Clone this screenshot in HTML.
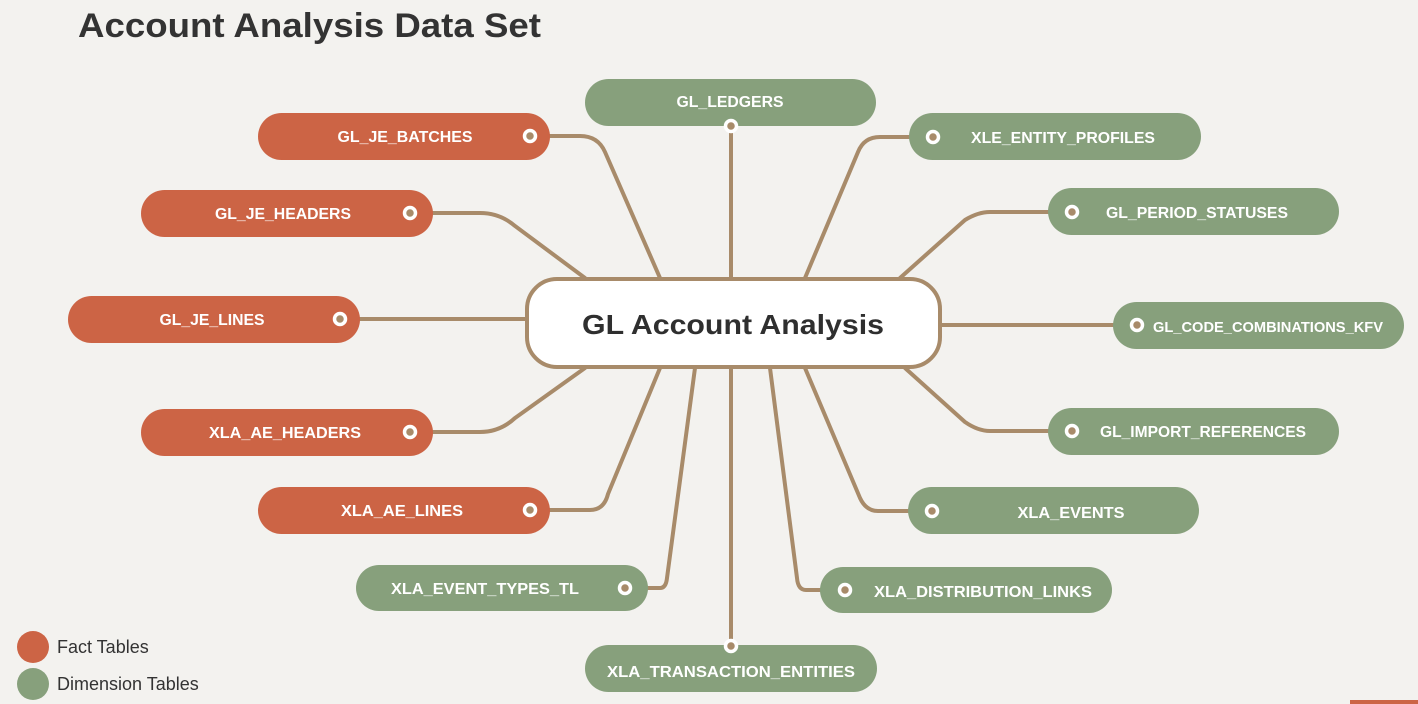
<!DOCTYPE html>
<html><head><meta charset="utf-8"><style>
html,body{margin:0;padding:0;background:#f3f2ef;}
svg{display:block;}
text{font-family:"Liberation Sans",sans-serif;}
</style></head><body>
<svg width="1418" height="704" viewBox="0 0 1418 704" xmlns="http://www.w3.org/2000/svg">
<rect width="1418" height="704" fill="#f3f2ef"/>
<text x="78" y="37" font-size="34" font-weight="bold" fill="#333" textLength="463" lengthAdjust="spacingAndGlyphs">Account Analysis Data Set</text>

<g fill="none" stroke="#a88b6a" stroke-width="4" stroke-linecap="round">
<path d="M548,136 H580 Q598,136 605,152 L660,278"/>
<path d="M431,213 H480 Q500,213 515,226 L585,278"/>
<path d="M358,319 H528"/>
<path d="M431,432 H480 Q500,432 515,418 L585,368"/>
<path d="M548,510 H590 Q604,510 608,494 L660,368"/>
<path d="M646,588 H660 Q666,588 667,578 L695,368"/>
<path d="M731,126 V278"/>
<path d="M731,368 V646"/>
<path d="M911,137 H880 Q864,137 858,152 L805,278"/>
<path d="M1050,212 H990 Q978,212 965,220 L900,278"/>
<path d="M1115,325 H938"/>
<path d="M1050,431 H990 Q978,431 965,422 L905,368"/>
<path d="M910,511 H878 Q866,511 860,498 L805,368"/>
<path d="M822,590 H806 Q798,590 797,578 L770,368"/>
</g>

<rect x="527" y="279" width="413" height="88" rx="30" fill="#fff" stroke="#a88b6a" stroke-width="4"/>
<text x="733" y="334" font-size="28" font-weight="bold" fill="#2f2f2f" text-anchor="middle" textLength="302" lengthAdjust="spacingAndGlyphs">GL Account Analysis</text>

<g font-size="16" font-weight="bold" fill="#fff">
<rect x="258" y="113" width="292" height="47" rx="23.5" fill="#cc6445"/>
<text x="405" y="142" text-anchor="middle" fill="#fff" textLength="135" lengthAdjust="spacingAndGlyphs">GL_JE_BATCHES</text>
<rect x="141" y="190" width="292" height="47" rx="23.5" fill="#cc6445"/>
<text x="283" y="219" text-anchor="middle" fill="#fff" textLength="136" lengthAdjust="spacingAndGlyphs">GL_JE_HEADERS</text>
<rect x="68" y="296" width="292" height="47" rx="23.5" fill="#cc6445"/>
<text x="212" y="325" text-anchor="middle" fill="#fff" textLength="105" lengthAdjust="spacingAndGlyphs">GL_JE_LINES</text>
<rect x="141" y="409" width="292" height="47" rx="23.5" fill="#cc6445"/>
<text x="285" y="438" text-anchor="middle" fill="#fff" textLength="152" lengthAdjust="spacingAndGlyphs">XLA_AE_HEADERS</text>
<rect x="258" y="487" width="292" height="47" rx="23.5" fill="#cc6445"/>
<text x="402" y="516" text-anchor="middle" fill="#fff" textLength="122" lengthAdjust="spacingAndGlyphs">XLA_AE_LINES</text>
<rect x="356" y="565" width="292" height="46" rx="23" fill="#87a07c"/>
<text x="485" y="594" text-anchor="middle" fill="#fff" textLength="188" lengthAdjust="spacingAndGlyphs">XLA_EVENT_TYPES_TL</text>
<rect x="585" y="79" width="291" height="47" rx="23.5" fill="#87a07c"/>
<text x="730" y="107" text-anchor="middle" fill="#fff" textLength="107" lengthAdjust="spacingAndGlyphs">GL_LEDGERS</text>
<rect x="585" y="645" width="292" height="47" rx="23.5" fill="#87a07c"/>
<text x="731" y="677" text-anchor="middle" fill="#fff" textLength="248" lengthAdjust="spacingAndGlyphs">XLA_TRANSACTION_ENTITIES</text>
<rect x="909" y="113" width="292" height="47" rx="23.5" fill="#87a07c"/>
<text x="1063" y="143" text-anchor="middle" fill="#fff" textLength="184" lengthAdjust="spacingAndGlyphs">XLE_ENTITY_PROFILES</text>
<rect x="1048" y="188" width="291" height="47" rx="23.5" fill="#87a07c"/>
<text x="1197" y="218" text-anchor="middle" fill="#fff" textLength="182" lengthAdjust="spacingAndGlyphs">GL_PERIOD_STATUSES</text>
<rect x="1113" y="302" width="291" height="47" rx="23.5" fill="#87a07c"/>
<text x="1268" y="332" text-anchor="middle" fill="#fff" textLength="230" lengthAdjust="spacingAndGlyphs" font-size="15">GL_CODE_COMBINATIONS_KFV</text>
<rect x="1048" y="408" width="291" height="47" rx="23.5" fill="#87a07c"/>
<text x="1203" y="437" text-anchor="middle" fill="#fff" textLength="206" lengthAdjust="spacingAndGlyphs">GL_IMPORT_REFERENCES</text>
<rect x="908" y="487" width="291" height="47" rx="23.5" fill="#87a07c"/>
<text x="1071" y="518" text-anchor="middle" fill="#fff" textLength="107" lengthAdjust="spacingAndGlyphs">XLA_EVENTS</text>
<rect x="820" y="567" width="292" height="46" rx="23" fill="#87a07c"/>
<text x="983" y="597" text-anchor="middle" fill="#fff" textLength="218" lengthAdjust="spacingAndGlyphs">XLA_DISTRIBUTION_LINKS</text>
</g>

<g fill="#a88b6a" stroke="#fff" stroke-width="3.5">
<circle cx="530" cy="136" r="5.5"/>
<circle cx="410" cy="213" r="5.5"/>
<circle cx="340" cy="319" r="5.5"/>
<circle cx="410" cy="432" r="5.5"/>
<circle cx="530" cy="510" r="5.5"/>
<circle cx="625" cy="588" r="5.5"/>
<circle cx="731" cy="126" r="5.5"/>
<circle cx="731" cy="646" r="5.5"/>
<circle cx="933" cy="137" r="5.5"/>
<circle cx="1072" cy="212" r="5.5"/>
<circle cx="1137" cy="325" r="5.5"/>
<circle cx="1072" cy="431" r="5.5"/>
<circle cx="932" cy="511" r="5.5"/>
<circle cx="845" cy="590" r="5.5"/>
</g>

<circle cx="33" cy="647" r="16" fill="#cc6445"/>
<circle cx="33" cy="684" r="16" fill="#87a07c"/>
<text x="57" y="653" font-size="18" fill="#333">Fact Tables</text>
<text x="57" y="690" font-size="18" fill="#333">Dimension Tables</text>
<rect x="1350" y="700" width="68" height="4" fill="#cc6445"/>
</svg>
</body></html>
